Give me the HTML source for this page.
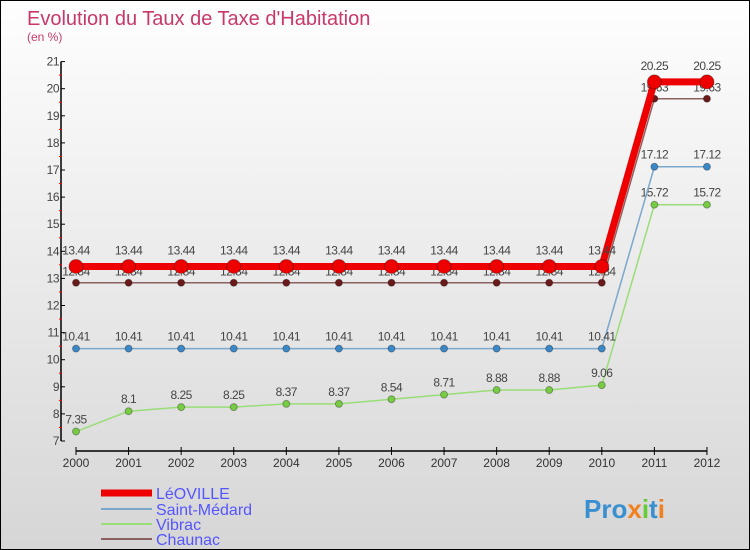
<!DOCTYPE html>
<html><head><meta charset="utf-8"><style>
body{margin:0;}
#c{width:750px;height:550px;position:relative;box-sizing:border-box;border:1px solid #000;background:linear-gradient(#fefefe,#d6d6d6);font-family:"Liberation Sans",sans-serif;overflow:hidden}
</style></head><body>
<div id="c">
<svg id="s" width="750" height="550" style="position:absolute;left:0;top:0">
<text x="26" y="24" font-size="20" fill="#c8386a">Evolution du Taux de Taxe d'Habitation</text>
<text x="26" y="40" font-size="12" fill="#c8386a">(en %)</text>
<g id="g"></g>
<g>
<line x1="100" y1="492" x2="151" y2="492" stroke="#e00" stroke-width="7"/>
<text x="155" y="498" font-size="16" fill="#55f">LéOVILLE</text>
<line x1="100" y1="508" x2="151" y2="508" stroke="#7aa8cc" stroke-width="2"/>
<text x="155" y="514" font-size="16" fill="#55f">Saint-Médard</text>
<line x1="100" y1="523" x2="151" y2="523" stroke="#99dd77" stroke-width="2"/>
<text x="155" y="529" font-size="16" fill="#55f">Vibrac</text>
<line x1="100" y1="538" x2="151" y2="538" stroke="#8b6060" stroke-width="2"/>
<text x="155" y="544" font-size="16" fill="#55f">Chaunac</text>
</g>
<text x="583" y="517" font-size="26" font-weight="bold" fill="#3a8fd0">Pro<tspan fill="#f08020">x</tspan><tspan fill="#6c3">i</tspan>t<tspan fill="#f08020">i</tspan></text>
</svg>
</div>
<script>
const years=[2000,2001,2002,2003,2004,2005,2006,2007,2008,2009,2010,2011,2012];
const leoville=[13.44,13.44,13.44,13.44,13.44,13.44,13.44,13.44,13.44,13.44,13.44,20.25,20.25];
const saintMedard=[10.41,10.41,10.41,10.41,10.41,10.41,10.41,10.41,10.41,10.41,10.41,17.12,17.12];
const vibrac=[7.35,8.1,8.25,8.25,8.37,8.37,8.54,8.71,8.88,8.88,9.06,15.72,15.72];
const chaunac=[12.84,12.84,12.84,12.84,12.84,12.84,12.84,12.84,12.84,12.84,12.84,19.63,19.63];
const yTicks=[7,8,9,10,11,12,13,14,15,16,17,18,19,20,21];
const NS="http://www.w3.org/2000/svg";
const g=document.getElementById('g');
const X=i=>75+i*52.58;
const Y=v=>440-(v-7)*27.1;
function el(t,a,p){const e=document.createElementNS(NS,t);for(const k in a)e.setAttribute(k,a[k]);(p||g).appendChild(e);return e;}
let ax=el('line',{x1:60,y1:Y(21),x2:60,y2:Y(7),stroke:'#000','stroke-width':1.5});


yTicks.forEach(v=>{
 el('line',{x1:60,y1:Y(v),x2:64,y2:Y(v),stroke:'#000'});
 if(v<21) el('line',{x1:58,y1:Y(v+0.5),x2:61,y2:Y(v+0.5),stroke:'#f00'});
 const t=el('text',{x:58,y:Y(v)+4,'font-size':12,fill:'#444','text-anchor':'end','letter-spacing':'-0.5'});t.textContent=v;
 
 
});
let xa=el('line',{x1:75,y1:450,x2:X(12),y2:450,stroke:'#000','stroke-width':1.5});


years.forEach((y,i)=>{
 el('line',{x1:X(i),y1:446,x2:X(i),y2:454,stroke:'#000'});
 const t=el('text',{x:X(i),y:466,'font-size':12,fill:'#333','text-anchor':'middle'});t.textContent=y;
 
 
});
function series(data,name,color,w,r,fill,dy){
 const s=el('g',{});
 
 
 el('polyline',{points:data.map((v,i)=>X(i)+','+Y(v)).join(' '),fill:'none',stroke:color,'stroke-width':w},s);
 data.forEach((v,i)=>{
  const c=el('circle',{cx:X(i),cy:Y(v),r:r,fill:fill,stroke:'rgba(0,0,0,0.3)'},s);
  
  
  const t=el('text',{x:X(i),y:Y(v)-dy,'font-size':12,fill:'#444','text-anchor':'middle','letter-spacing':'-0.5'},s);t.textContent=v;
 });
}
series(chaunac,'series-chaunac','#8b6060',1.5,3.5,'#6a1a1a',7);
series(vibrac,'series-vibrac','#99dd77',1.5,3.5,'#77cc44',8);
series(saintMedard,'series-saint-medard','#7aa8cc',1.5,3.5,'#3a88c8',8);
series(leoville,'series-leoville','#e00',7,7,'#e00',12);
</script>
</body></html>
